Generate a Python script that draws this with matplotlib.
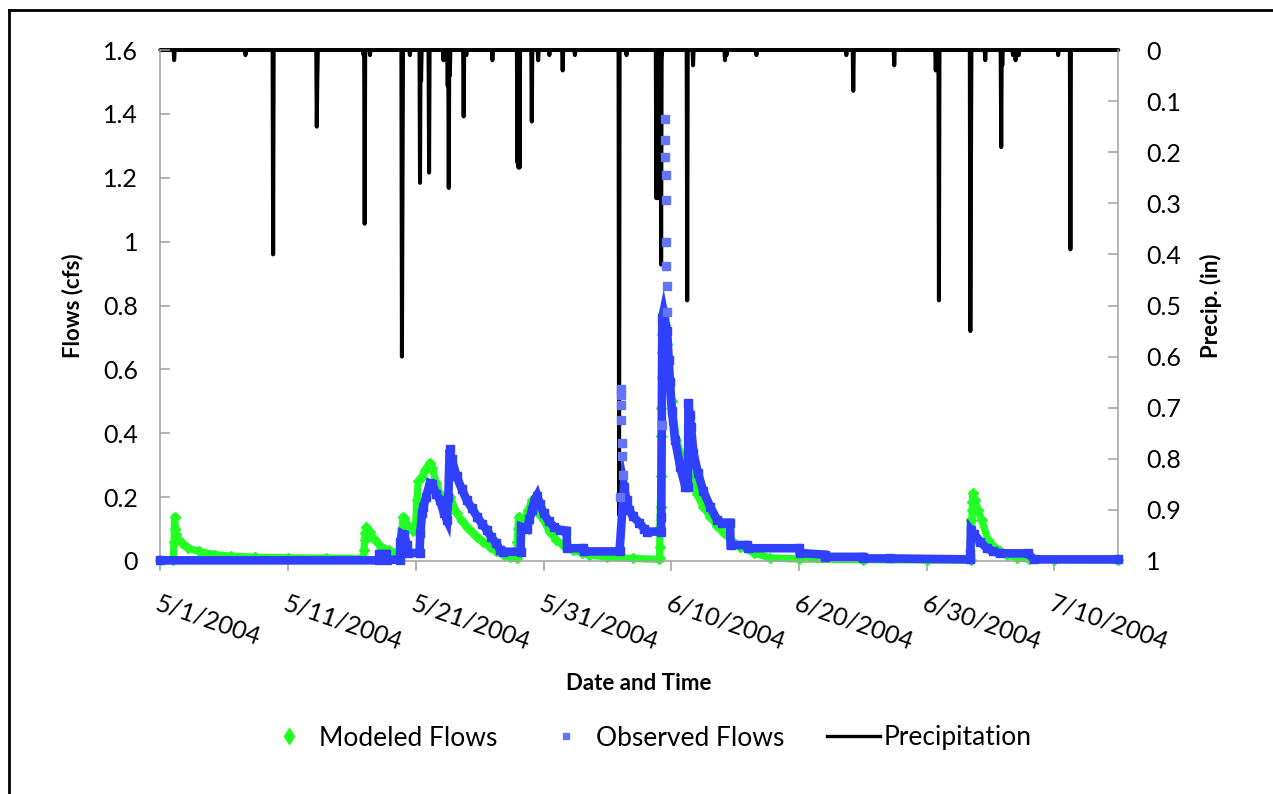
import numpy as np
import matplotlib
matplotlib.use("Agg")
import matplotlib.pyplot as plt
from matplotlib.lines import Line2D

plt.rcParams['font.family'] = ['Lato', 'DejaVu Sans']

# ---------------- data (x = days since 5/1/2004 00:00) ----------------
x_tick_days = [0, 10, 20, 30, 40, 50, 60, 70]
x_tick_labels = ['5/1/2004', '5/11/2004', '5/21/2004', '5/31/2004',
                 '6/10/2004', '6/20/2004', '6/30/2004', '7/10/2004']
flow_ticks = [0, 0.2, 0.4, 0.6, 0.8, 1.0, 1.2, 1.4, 1.6]
flow_tick_labels = ['0', '0.2', '0.4', '0.6', '0.8', '1', '1.2', '1.4', '1.6']
precip_ticks = [0, 0.1, 0.2, 0.3, 0.4, 0.5, 0.6, 0.7, 0.8, 0.9, 1.0]
precip_tick_labels = ['0', '0.1', '0.2', '0.3', '0.4', '0.5', '0.6', '0.7', '0.8', '0.9', '1']

# Modeled flows (cfs) - continuous band
mod_t = [0.0, 1.0, 1.08, 1.12, 1.18, 1.25, 1.4, 1.7, 2.2, 3.0, 4.3, 5.5, 7.4, 10.0, 13.0,
         15.9, 15.95, 16.0, 16.05, 16.12, 16.4, 16.8, 17.3, 17.9, 18.4, 18.8,
         18.88, 18.93, 19.0, 19.1, 19.4, 19.8, 20.0, 20.08, 20.2, 20.47, 20.73, 21.1,
         21.3, 21.6, 21.9, 22.2, 22.6, 22.7, 23.2, 23.6, 24.0, 24.4, 24.8, 25.3, 25.8,
         26.3, 26.9, 27.4, 27.9, 27.95, 28.0, 28.05, 28.4, 28.8, 29.1, 29.3, 29.6, 30.0,
         30.5, 31.0, 31.6, 32.3, 33.0, 33.6, 35.0, 37.0, 39.08,
         39.38, 39.5, 39.65, 39.78, 40.05, 40.4, 40.8, 41.2, 41.4, 41.6, 42.0, 42.5,
         43.05, 43.6, 44.1, 44.7, 45.4, 46.5, 47.7, 50.0, 55.0, 60.0, 63.45,
         63.6, 63.8, 64.0, 64.3, 64.8, 65.3, 65.75, 66.3, 67.06, 68.0, 70.0, 75.0]
mod_q = [0.003, 0.004, 0.06, 0.139, 0.10, 0.085, 0.07, 0.055, 0.04, 0.03, 0.02, 0.015, 0.012, 0.01, 0.009,
         0.008, 0.035, 0.066, 0.087, 0.105, 0.09, 0.065, 0.045, 0.033, 0.025, 0.022,
         0.06, 0.10, 0.139, 0.135, 0.11, 0.095, 0.12, 0.19, 0.25, 0.264, 0.285, 0.308,
         0.29, 0.243, 0.21, 0.18, 0.185, 0.20, 0.15, 0.125, 0.107, 0.09, 0.076, 0.06, 0.045,
         0.03, 0.019, 0.012, 0.008, 0.06, 0.10, 0.139, 0.12, 0.16, 0.19, 0.18, 0.15, 0.128,
         0.09, 0.066, 0.047, 0.034, 0.025, 0.019, 0.012, 0.008, 0.005,
         0.776, 0.74, 0.68, 0.63, 0.50, 0.38, 0.33, 0.295, 0.29, 0.26, 0.21, 0.17,
         0.139, 0.11, 0.087, 0.065, 0.045, 0.025, 0.01, 0.006, 0.004, 0.003, 0.003,
         0.212, 0.19, 0.16, 0.128, 0.066, 0.045, 0.03, 0.02, 0.01, 0.006, 0.004, 0.003]
# Modeled flows - isolated points on the steep rising limbs
mod_rise_t = [39.1, 39.12, 39.14, 39.16, 39.18, 39.2, 39.22, 39.24, 39.26, 39.3,
              63.47, 63.5, 63.53, 63.56]
mod_rise_q = [0.01, 0.045, 0.107, 0.17, 0.266, 0.39, 0.48, 0.577, 0.655, 0.71,
              0.06, 0.128, 0.16, 0.186]

# Observed flows (cfs) - continuous band
obs_t = [0.0, 17.1, 17.15, 17.7, 17.75, 18.75, 18.8, 18.9, 19.1, 19.3, 19.4, 20.3, 20.35,
         20.5, 20.6, 20.8, 21.1, 21.3, 21.6, 21.9, 22.2, 22.45, 22.55, 22.65, 22.8, 23.2,
         23.6, 24.0, 24.4, 24.8, 25.2, 25.56, 25.9, 26.3, 26.6, 26.8, 28.2, 28.25, 28.7,
         28.9, 29.1, 29.3, 29.5, 29.7, 30.0, 30.4, 30.8, 31.3, 31.8, 31.85, 33.1, 33.15,
         35.95, 36.3, 36.5, 36.7, 37.0, 37.5, 37.9, 38.1, 39.2, 39.22,
         39.3, 39.4, 39.68, 39.8, 39.9, 40.05, 40.3, 40.7, 41.1, 41.3, 41.35, 41.45,
         41.55, 41.74, 42.1, 42.5, 43.05, 43.6, 44.0, 44.6, 44.65, 45.9, 46.0, 50.0,
         50.05, 52.0, 52.05, 55.0, 55.05, 57.1, 63.4, 63.42, 63.46, 63.7, 64.2, 64.7,
         65.2, 65.75, 67.9, 68.4, 75.0]
obs_q = [0.002, 0.002, 0.022, 0.022, 0.004, 0.004, 0.06, 0.085, 0.08, 0.05, 0.025, 0.025, 0.087,
         0.15, 0.17, 0.20, 0.243, 0.24, 0.21, 0.19, 0.15, 0.128, 0.20, 0.35, 0.32, 0.265,
         0.225, 0.19, 0.165, 0.139, 0.115, 0.097, 0.075, 0.055, 0.035, 0.029, 0.029, 0.107, 0.10,
         0.13, 0.16, 0.19, 0.205, 0.18, 0.15, 0.125, 0.107, 0.097, 0.095, 0.04, 0.04, 0.03,
         0.03, 0.233, 0.19, 0.16, 0.14, 0.12, 0.10, 0.092, 0.092, 0.139,
         0.76, 0.78, 0.72, 0.63, 0.56, 0.47, 0.38, 0.295, 0.233, 0.233, 0.494, 0.457,
         0.42, 0.337, 0.275, 0.22, 0.17, 0.128, 0.12, 0.12, 0.05, 0.05, 0.04, 0.04,
         0.025, 0.02, 0.013, 0.013, 0.008, 0.008, 0.005, 0.024, 0.097, 0.085, 0.06, 0.04,
         0.03, 0.024, 0.024, 0.005, 0.005]
# Observed flows - isolated points
obs_spike_t = [36.0, 36.04, 36.06, 36.08, 36.1, 36.14, 36.18, 36.22,
               39.26, 39.5, 39.52, 39.54, 39.56, 39.58, 39.6, 39.62, 39.64, 39.66]
obs_spike_q = [0.2, 0.54, 0.52, 0.49, 0.44, 0.37, 0.33, 0.27,
               0.426, 1.385, 1.318, 1.266, 1.21, 1.13, 1.0, 0.925, 0.86, 0.78]

# Precipitation (in), hourly totals
precip_t = [1.1, 6.65, 8.83, 12.25, 12.3, 15.9, 16.0, 16.4, 18.9, 18.95, 19.55, 20.33, 20.4,
            21.05, 22.15, 22.5, 22.6, 22.65, 23.73, 23.95, 26.0, 27.95, 28.05, 28.12, 29.1,
            29.6, 30.45, 31.5, 32.45, 35.92, 36.5, 38.85, 38.95, 39.05, 39.2, 39.26, 41.25,
            41.72, 44.2, 44.35, 46.65, 53.7, 54.27, 57.45, 60.72, 60.97, 63.4, 63.45, 64.58,
            65.83, 65.9, 66.75, 66.95, 67.2, 70.3, 71.24]
precip_in = [0.02, 0.01, 0.40, 0.15, 0.06, 0.01, 0.34, 0.01, 0.60, 0.30, 0.01, 0.26, 0.06,
             0.24, 0.02, 0.07, 0.27, 0.05, 0.13, 0.01, 0.02, 0.22, 0.23, 0.23, 0.14,
             0.02, 0.01, 0.04, 0.01, 0.91, 0.01, 0.29, 0.29, 0.16, 0.42, 0.02, 0.49,
             0.03, 0.02, 0.01, 0.01, 0.01, 0.08, 0.03, 0.04, 0.49, 0.55, 0.25, 0.02,
             0.19, 0.03, 0.01, 0.02, 0.01, 0.01, 0.39]

# ---------------- styling ----------------
W, H = 1273, 794
green = '#22FF22'
blue = '#3040FF'
blue_light = '#6474F8'
grey = '#A0A0A0'
tick_fs = 18
legend_fs = 19
label_fs = 16

fig = plt.figure(figsize=(W / 100, H / 100), dpi=100)
left_px, right_px, top_px, bot_px = 160.3, 1118.3, 50.0, 561.0
ax = fig.add_axes([left_px / W, 1 - bot_px / H, (right_px - left_px) / W, (bot_px - top_px) / H])
ax2 = ax.twinx()

# precipitation on secondary (inverted) axis
hours = np.arange(0, 75 * 24 + 1)
precip_series = np.zeros(len(hours))
for t, v in zip(precip_t, precip_in):
    i = int(round(t * 24))
    precip_series[i] = max(precip_series[i], v)
ax2.plot(hours / 24.0, precip_series, color='black', lw=2.9,
         solid_joinstyle='round', solid_capstyle='round', clip_on=False)
ax2.set_ylim(1, 0)
ax2.set_yticks(precip_ticks)
ax2.set_yticklabels(precip_tick_labels)

# flows on primary axis (drawn above precipitation)
ax.set_zorder(ax2.get_zorder() + 1)
ax.patch.set_visible(False)

ax.plot(mod_t, mod_q, color=green, lw=5.2, solid_joinstyle='round', clip_on=False, zorder=2)
ax.plot(mod_t, mod_q, ls='none', marker='D', ms=5.5, color=green, clip_on=False, zorder=2)
ax.plot(mod_rise_t, mod_rise_q, ls='none', marker='D', ms=5.5, color=green, clip_on=False, zorder=2)
ax.plot(obs_t, obs_q, color=blue, lw=6.2, solid_joinstyle='miter', clip_on=False, zorder=3)
ax.plot(obs_t, obs_q, ls='none', marker='s', ms=6.2, color=blue, clip_on=False, zorder=3)
ax.plot(obs_spike_t, obs_spike_q, ls='none', marker='s', ms=6, color=blue_light,
        clip_on=False, zorder=3)

ax.set_xlim(0, 75)
ax.set_ylim(0, 1.6)
ax.set_yticks(flow_ticks)
ax.set_yticklabels(flow_tick_labels)
ax.set_xticks(x_tick_days)
ax.set_xticklabels(x_tick_labels, rotation=-19, ha='left', va='top', rotation_mode='anchor')

for a in (ax, ax2):
    for s in a.spines.values():
        s.set_color(grey)
        s.set_linewidth(1.1)
    a.spines['top'].set_visible(False)
ax.spines['right'].set_visible(False)
ax2.spines['left'].set_visible(False)
ax2.spines['bottom'].set_visible(False)

ax.tick_params(axis='y', direction='in', length=7, width=1.1, color=grey,
               labelsize=tick_fs, pad=16)
ax.tick_params(axis='x', direction='out', length=7, width=1.1, color=grey,
               labelsize=tick_fs, pad=15)
ax2.tick_params(axis='y', direction='in', length=7, width=1.1, color=grey,
                labelsize=tick_fs, pad=20)

fig.text(73 / W, 1 - 305.5 / H, 'Flows (cfs)', rotation=90, ha='center', va='center',
         fontsize=label_fs, fontweight='bold')
fig.text(1211 / W, 1 - 305.5 / H, 'Precip. (in)', rotation=90, ha='center', va='center',
         fontsize=label_fs, fontweight='bold')
fig.text(639 / W, 1 - 683 / H, 'Date and Time', ha='center', va='center',
         fontsize=label_fs, fontweight='bold')

handles = [Line2D([], [], ls='none', marker='d', ms=8, color=green),
           Line2D([], [], ls='none', marker='s', ms=5, color=blue_light),
           Line2D([], [], color='black', lw=2.4)]
fig.legend(handles, ['Modeled Flows', 'Observed Flows', 'Precipitation'],
           loc='center', bbox_to_anchor=(647 / W, 1 - 738 / H), ncol=3, frameon=False,
           fontsize=legend_fs, handlelength=2.0, handletextpad=0.15, columnspacing=1.6)

# figure frame (top and left edges)
fig.add_artist(Line2D([9 / W, 9 / W], [0, 1 - 10 / H], color='black', lw=2, transform=fig.transFigure))
fig.add_artist(Line2D([9 / W, 1], [1 - 10 / H, 1 - 10 / H], color='black', lw=2, transform=fig.transFigure))

fig.savefig('out.png', dpi=100)
